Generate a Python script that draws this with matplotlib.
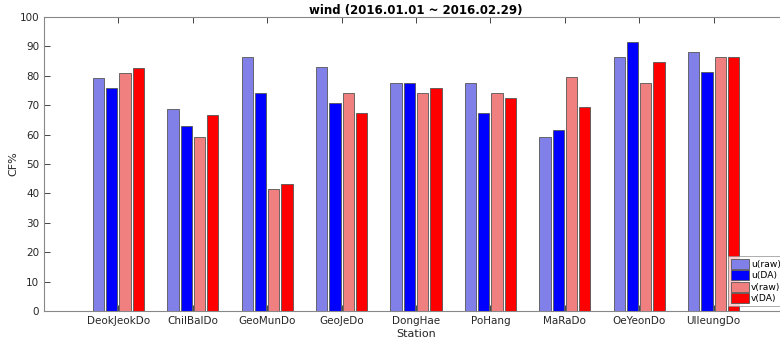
import numpy as np
import matplotlib.pyplot as plt

stations = ["DeokJeokDo", "ChilBalDo", "GeoMunDo", "GeoJeDo", "DongHae",
            "PoHang", "MaRaDo", "OeYeonDo", "UlleungDo"]
u_raw = [79.4, 68.6, 86.3, 82.9, 77.7, 77.7, 59.1, 86.3, 88.0]
u_da = [76.0, 63.0, 74.1, 70.6, 77.7, 67.2, 61.6, 91.4, 81.2]
v_raw = [81.1, 59.3, 41.5, 74.1, 74.1, 74.1, 79.6, 77.7, 86.3]
v_da = [82.8, 66.8, 43.1, 67.2, 76.0, 72.4, 69.3, 84.6, 86.3]

series = [("u(raw)", u_raw, "#8080e8"),
          ("u(DA)", u_da, "#0000ff"),
          ("v(raw)", v_raw, "#f08080"),
          ("v(DA)", v_da, "#ff0000")]

fig = plt.figure(figsize=(7.8, 3.42), dpi=100)
ax = fig.add_axes([44 / 780, 1 - 311 / 342, 744 / 780, 294 / 342])

x = np.arange(1, len(stations) + 1)
step = 0.178
for i, (name, vals, col) in enumerate(series):
    ax.bar(x + (i - 1.5) * step, vals, width=0.152, color=col,
           edgecolor="#555555", linewidth=0.6, label=name)

ax.set_xlim(0, 10)
ax.set_ylim(0, 100)
ax.set_xticks(x)
ax.set_xticklabels(stations)
ax.set_yticks(np.arange(0, 101, 10))
ax.tick_params(direction="in", length=4, width=0.6, colors="#262626",
               labelsize=7.5, top=True, right=True)
for s in ax.spines.values():
    s.set_color("#888888")
    s.set_linewidth(0.8)

ax.set_xlabel("Station", fontsize=8, color="#262626", labelpad=2)
ax.set_ylabel("CF%", fontsize=8, color="#262626", labelpad=1)
ax.set_title("wind (2016.01.01 ~ 2016.02.29)", fontsize=8.5, fontweight="bold",
             color="#000000", pad=2)

leg = fig.legend(loc="upper left", bbox_to_anchor=(728 / 780, 1 - 256 / 342),
                 fontsize=6.6, frameon=True, fancybox=False, handlelength=2.0,
                 handleheight=1.35, handletextpad=0.2, borderpad=0.3,
                 labelspacing=0.12, borderaxespad=0)
leg.get_frame().set_edgecolor("#888888")
leg.get_frame().set_linewidth(0.6)

fig.savefig("out.png", dpi=100)
